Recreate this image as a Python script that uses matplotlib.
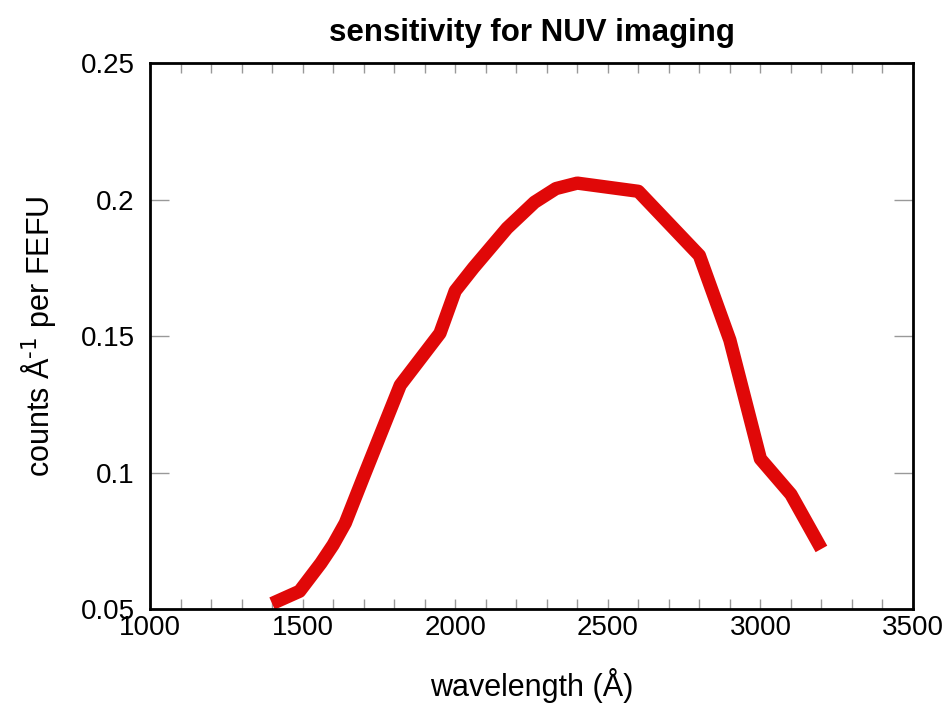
import matplotlib
matplotlib.use('Agg')
import matplotlib.pyplot as plt
from matplotlib.ticker import MultipleLocator
import numpy as np

plt.rcParams['font.family'] = ['Liberation Sans', 'DejaVu Sans']
plt.rcParams['mathtext.default'] = 'regular'

wavelength = [1400, 1490, 1560, 1600, 1640, 1700, 1820, 1950, 2000, 2060, 2170,
              2260, 2330, 2400, 2600, 2800, 2900, 3000, 3100, 3200]
sensitivity = [0.0520, 0.0565, 0.0668, 0.0735, 0.0815, 0.0985, 0.1320, 0.1510,
               0.1665, 0.1750, 0.1895, 0.1990, 0.2040, 0.2060, 0.2030, 0.1795,
               0.1485, 0.1050, 0.0920, 0.0720]
yticks = [0.05, 0.1, 0.15, 0.2, 0.25]
ytick_labels = ['0.05', '0.1', '0.15', '0.2', '0.25']


def main():
	fig = plt.figure(figsize=(9.46, 7.04), dpi=100)
	ax = fig.add_axes([150/946, 1-609/704, 763/946, 546/704])
	ax.plot(np.array(wavelength), np.array(sensitivity), color='#e00808',
	        lw=9.6, solid_capstyle='butt', solid_joinstyle='round', clip_on=False)
	ax.set_xlim(1000, 3500)
	ax.set_ylim(0.05, 0.25)
	ax.xaxis.set_major_locator(MultipleLocator(500))
	ax.xaxis.set_minor_locator(MultipleLocator(100))
	ax.set_yticks(yticks, ytick_labels)
	ax.tick_params(which='both', direction='in', top=True, right=True,
	               color='#999999', width=1, labelsize=20)
	ax.tick_params(which='major', length=14, pad=11)
	ax.tick_params(which='minor', length=7)
	ax.tick_params(axis='x', which='major', length=7, pad=4)
	for s in ax.spines.values():
		s.set_linewidth(2)
	ax.set_title('sensitivity for NUV imaging', fontsize=22.5, fontweight='bold', pad=16)
	ax.set_xlabel('wavelength (Å)', fontsize=22, labelpad=20)
	ax.set_ylabel(r'counts Å$^{\text{-1}}$ per FEFU', fontsize=22, labelpad=16)
	fig.savefig('out.png', dpi=100)

if __name__ == "__main__":
	main()
